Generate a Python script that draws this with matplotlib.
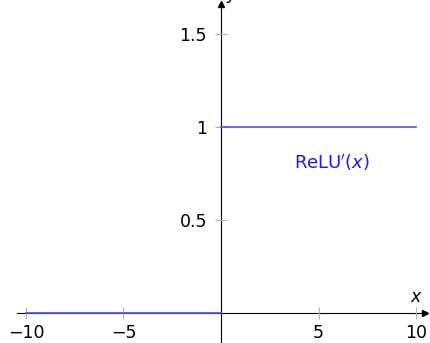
import matplotlib
matplotlib.use("Agg")
import matplotlib.pyplot as plt

plt.rcParams["font.family"] = ["DejaVu Sans"]
plt.rcParams["mathtext.fontset"] = "dejavusans"

# step function: derivative of ReLU
neg_x = [-10, 0]
neg_y = [0, 0]
pos_x = [0, 10]
pos_y = [1, 1]

x_ticks = [-10, -5, 5, 10]
x_tick_labels = ["\u221210", "\u22125", "5", "10"]
y_ticks = [0.5, 1, 1.5]
y_tick_labels = ["0.5", "1", "1.5"]

xlim = (-10.46, 10.46)
ylim = (-0.17, 1.66)

W, H = 430, 343
fig = plt.figure(figsize=(W / 100, H / 100), dpi=100)
px_x = 19.5   # pixels per x unit
px_y = 186.0  # pixels per y unit
x0_px = 221
y0_px = H - 313
left = (x0_px + xlim[0] * px_x) / W
bottom = (y0_px + ylim[0] * px_y) / H
ax = fig.add_axes([left, bottom, (xlim[1] - xlim[0]) * px_x / W,
                   (ylim[1] - ylim[0]) * px_y / H])
ax.set_xlim(*xlim)
ax.set_ylim(*ylim)
ax.patch.set_visible(False)

for side in ("top", "right"):
    ax.spines[side].set_visible(False)
ax.spines["left"].set_position(("data", 0))
ax.spines["bottom"].set_position(("data", 0))
for side in ("left", "bottom"):
    ax.spines[side].set_linewidth(0.8)
    ax.spines[side].set_zorder(1)

# arrow heads at the axis ends
ax.plot(xlim[1], 0, marker=">", color="black", markersize=5, clip_on=False, zorder=3)
ax.plot(0, ylim[1], marker="^", color="black", markersize=5, clip_on=False, zorder=3)

ax.set_xticks(x_ticks)
ax.set_xticklabels(x_tick_labels)
ax.set_yticks(y_ticks)
ax.set_yticklabels(y_tick_labels)
ax.tick_params(axis="both", direction="inout", length=8, width=0.8,
               color="#b0b0b0", labelsize=12.5, labelcolor="black")
ax.tick_params(axis="x", pad=4)
ax.tick_params(axis="y", pad=6)

line_color = "#4d4dff"
ax.plot(neg_x, neg_y, color=line_color, lw=1.2, zorder=2)
ax.plot(pos_x, pos_y, color=line_color, lw=1.2, zorder=2)

ax.text(5.7, 0.81, r"$\mathrm{ReLU}'(x)$", color="#1a1aff", fontsize=13,
        ha="center", va="center")
ax.text(10.0, 0.04, r"$x$", fontsize=12.5, ha="center", va="bottom")
ax.text(0.6, 1.69, r"$y$", fontsize=12.5, ha="center", va="baseline", clip_on=False)

fig.savefig("out.png", dpi=100)
